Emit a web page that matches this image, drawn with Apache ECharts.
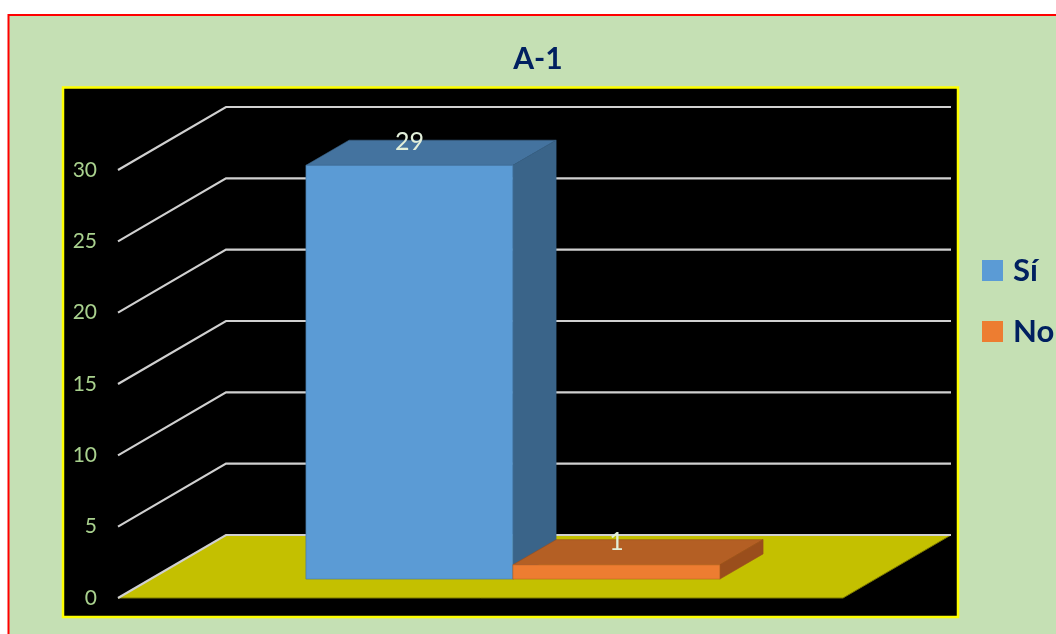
<!DOCTYPE html>
<html>
<head>
<meta charset="utf-8">
<script src="https://cdn.jsdelivr.net/npm/echarts@6/dist/echarts.min.js"></script>
<style>
  html, body { margin: 0; padding: 0; background: #fff; }
  #chart { width: 1056px; height: 634px; }
</style>
</head>
<body>
<div id="chart"></div>
<script>
const categories = ['']
const seriesNames = ['Sí', 'No']
const siValues = [29]
const noValues = [1]
const yTicks = [0, 5, 10, 15, 20, 25, 30]

const FONT = 'Lato, "Noto Sans", sans-serif'
// floor depth as seen on screen, front edge -> back wall
const DEPTH_X = 108
const DEPTH_Y = 63
const BAR_FRONT = 0.3
const BAR_BACK = 0.7
const BAR_SHARE = 0.2855

const palette = {
  'Sí': { front: '#5B9BD5', top: '#44739F', side: '#3A6489' },
  'No': { front: '#ED7D31', top: '#B45F24', side: '#9A4E1C' },
}

// back wall gridlines, plus the floor under the 0 line
const wallItem = (params, api) => {
  const v = api.value(1)
  const c = api.coord([api.value(0), v])
  const band = api.size([1, 0])[0]
  const left = c[0] - band / 2
  const right = c[0] + band / 2
  const y = c[1]
  const children = []
  if (v === yTicks[0]) {
    children.push({
      type: 'polygon',
      shape: { points: [[left, y], [left + DEPTH_X, y - DEPTH_Y], [right + DEPTH_X, y - DEPTH_Y], [right, y]] },
      style: { fill: '#C4C000', stroke: '#7d7a00', lineWidth: 1 },
    })
  }
  children.push({
    type: 'polyline',
    shape: { points: [[left, y], [left + DEPTH_X, y - DEPTH_Y], [right + DEPTH_X, y - DEPTH_Y]] },
    style: { stroke: '#D0D0D0', lineWidth: 2.2, fill: null },
  })
  return { type: 'group', children }
}

const barItem = (slot) => (params, api) => {
  const colors = palette[seriesNames[slot]]
  const value = api.value(1)
  const base = api.coord([api.value(0), 0])
  const top = api.coord([api.value(0), value])
  const w = api.size([1, 0])[0] * BAR_SHARE
  const x0 = base[0] - w + slot * w
  const x1 = x0 + w
  const fx = DEPTH_X * BAR_FRONT, fy = DEPTH_Y * BAR_FRONT
  const bx = DEPTH_X * BAR_BACK, by = DEPTH_Y * BAR_BACK
  const yb = base[1], yt = top[1]
  return {
    type: 'group',
    children: [
      {
        type: 'polygon',
        shape: { points: [[x0 + fx, yt - fy], [x1 + fx, yt - fy], [x1 + bx, yt - by], [x0 + bx, yt - by]] },
        style: { fill: colors.top, stroke: colors.side, lineWidth: 0.6 },
      },
      {
        type: 'polygon',
        shape: { points: [[x1 + fx, yt - fy], [x1 + bx, yt - by], [x1 + bx, yb - by], [x1 + fx, yb - fy]] },
        style: { fill: colors.side, stroke: colors.side, lineWidth: 0.6 },
      },
      {
        type: 'rect',
        shape: { x: x0 + fx, y: yt - fy, width: w, height: yb - yt },
        style: { fill: colors.front, stroke: colors.top, lineWidth: 0.6 },
      },
      {
        type: 'text',
        style: {
          text: String(value),
          x: (x0 + x1) / 2 + fx,
          y: yt - fy - 23,
          align: 'center',
          verticalAlign: 'middle',
          fill: '#E2EFDA',
          fontSize: 25,
          fontFamily: FONT,
        },
      },
    ],
  }
}

const chart = echarts.init(document.getElementById('chart'), null, { renderer: 'canvas' })

chart.setOption({
  backgroundColor: '#ffffff',
  animation: false,
  graphic: [
    {
      type: 'rect', z: -10,
      shape: { x: 8.5, y: 15, width: 1100, height: 700 },
      style: { fill: '#C5E0B4', stroke: '#FF0000', lineWidth: 2 },
    },
    {
      type: 'rect', z: -9,
      shape: { x: 63, y: 87.5, width: 895, height: 529.5 },
      style: { fill: '#000000', stroke: '#FFFF00', lineWidth: 2.5 },
    },
  ],
  title: {
    text: 'A-1',
    left: 538,
    top: 59,
    padding: 0,
    textAlign: 'center',
    textVerticalAlign: 'middle',
    textStyle: { fontFamily: FONT, fontWeight: 'bold', fontSize: 30, color: '#002060' },
  },
  legend: {
    data: seriesNames,
    orient: 'vertical',
    left: 982,
    top: 255,
    padding: 0,
    itemWidth: 21,
    itemHeight: 21,
    itemGap: 30,
    icon: 'rect',
    selectedMode: false,
    textStyle: { fontFamily: FONT, fontWeight: 'bold', fontSize: 31, color: '#002060', padding: [0, 0, 0, 5] },
  },
  grid: { left: 118, right: 213, top: 170, bottom: 36 },
  xAxis: {
    type: 'category',
    data: categories,
    show: false,
  },
  yAxis: {
    type: 'value',
    min: 0,
    max: 30,
    interval: 5,
    axisLine: { show: false },
    axisTick: { show: false },
    splitLine: { show: false },
    axisLabel: { color: '#A9D18E', fontFamily: FONT, fontSize: 21, margin: 21 },
  },
  series: [
    {
      type: 'custom',
      name: 'wall',
      silent: true,
      renderItem: wallItem,
      data: yTicks.map((v) => [0, v]),
    },
    {
      type: 'custom',
      name: seriesNames[0],
      itemStyle: { color: palette['Sí'].front },
      renderItem: barItem(0),
      data: categories.map((c, i) => [i, siValues[i]]),
    },
    {
      type: 'custom',
      name: seriesNames[1],
      itemStyle: { color: palette['No'].front },
      renderItem: barItem(1),
      data: categories.map((c, i) => [i, noValues[i]]),
    },
  ],
})
</script>
</body>
</html>
